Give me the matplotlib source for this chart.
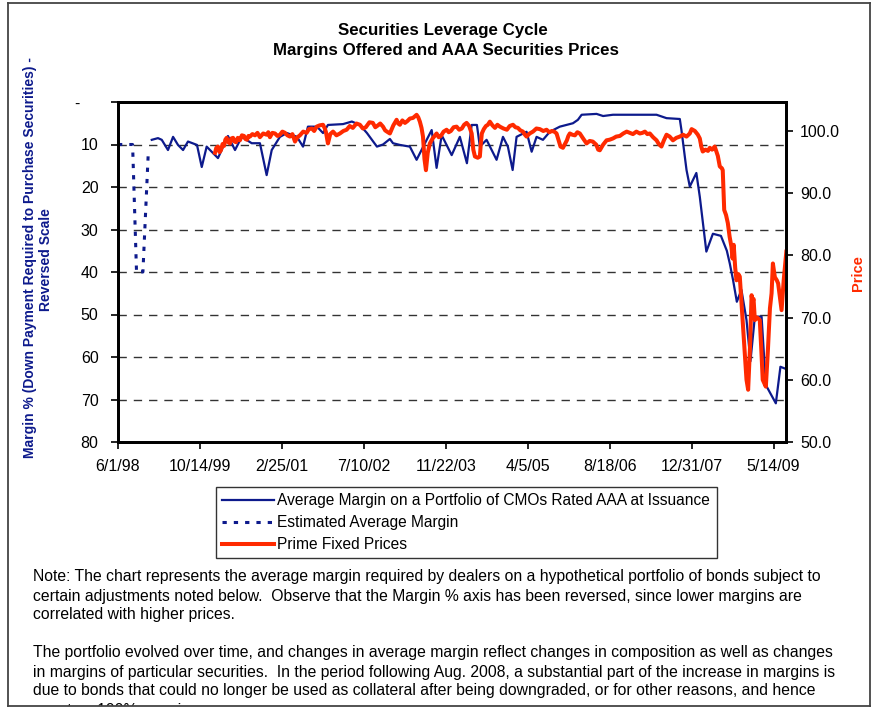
import pandas as pd
import matplotlib.pyplot as plt
from matplotlib.lines import Line2D
from matplotlib.patches import Rectangle

W, H = 871, 712
START = pd.Timestamp('1998-06-01')

# estimated margin (dotted), days since 6/1/98
est_days = [0, 89, 113, 152, 185]
est_margin = [10, 10, 40, 40, 11.7]

# average margin on CMO portfolio (%), days since 6/1/98
margin_days = [206, 244, 267, 305, 336, 366, 397, 427, 482, 511, 541, 610, 671, 714, 755,
               816, 866, 907, 938, 988, 1031, 1092, 1129, 1159, 1214, 1251, 1281, 1373, 1427,
               1476, 1519, 1580, 1617, 1659, 1678, 1720, 1781, 1822, 1873, 1914, 1944, 1975,
               2036, 2086, 2129, 2158, 2190, 2208, 2249, 2310, 2349, 2379, 2408, 2432, 2493,
               2524, 2554, 2593, 2635, 2696, 2776, 2806, 2829, 2920, 2960, 3020, 3225, 3286,
               3347, 3428, 3438, 3469, 3489, 3529, 3550, 3590, 3630, 3679, 3715, 3733, 3753,
               3776, 3804, 3835, 3859, 3886, 3927, 3953, 4014, 4042, 4075]
margin_vals = [8.9, 8.5, 8.9, 11.3, 8.2, 10.1, 11.3, 9.3, 10.1, 15.3, 10.5, 13.2, 8.0, 11.3, 8.2,
               9.7, 9.7, 17.2, 11.3, 8.2, 7.3, 8.2, 10.5, 5.8, 5.8, 7.3, 5.4, 5.2, 4.6,
               5.4, 7.3, 10.5, 10.0, 8.7, 9.7, 10.1, 10.5, 13.6, 9.7, 6.6, 15.5, 7.8,
               12.5, 8.2, 14.4, 5.4, 5.4, 10.5, 8.9, 13.6, 8.2, 10.5, 16.0, 8.2, 7.0,
               11.7, 8.2, 8.9, 7.0, 5.8, 5.0, 4.2, 3.0, 2.8, 3.3, 3.0, 3.0, 3.0,
               3.8, 4.0, 6.6, 16.0, 19.9, 16.7, 22.3, 35.2, 31.0, 31.5, 35.0, 38.0, 41.9,
               47.0, 44.2, 51.3, 61.0, 50.5, 50.5, 66.6, 70.9, 62.3, 62.8]

# prime fixed prices, days since 6/1/98
price_days = [592, 600, 610, 620, 628, 638, 647, 655, 663, 673, 683, 692, 702, 711, 720, 731,
              744, 756, 769, 778, 787, 796, 805, 820, 836, 851, 866, 886, 907, 917, 927, 942,
              958, 973, 988, 1003, 1019, 1034, 1049, 1064, 1080, 1095, 1110, 1130, 1151, 1165,
              1183, 1197, 1212, 1230, 1251, 1262, 1269, 1281, 1295, 1312, 1333, 1354, 1375,
              1395, 1414, 1433, 1455, 1476, 1494, 1512, 1534, 1555, 1570, 1586, 1600, 1617,
              1630, 1641, 1659, 1680, 1700, 1710, 1720, 1735, 1751, 1766, 1781, 1800, 1822,
              1832, 1842, 1852, 1861, 1870, 1879, 1890, 1903, 1920, 1944, 1957, 1970, 1987,
              2005, 2018, 2031, 2048, 2066, 2082, 2098, 2112, 2127, 2143, 2158, 2168, 2178,
              2195, 2208, 2214, 2220, 2232, 2245, 2257, 2269, 2285, 2300, 2315, 2330, 2352,
              2373, 2390, 2410, 2425, 2440, 2455, 2471, 2483, 2493, 2512, 2532, 2553, 2574,
              2595, 2615, 2632, 2647, 2662, 2676, 2690, 2700, 2715, 2727, 2739, 2748, 2757,
              2772, 2788, 2803, 2818, 2838, 2859, 2878, 2897, 2918, 2930, 2940, 2960, 2981,
              3000, 3020, 3040, 3062, 3083, 3104, 3123, 3142, 3163, 3184, 3200, 3215, 3230,
              3245, 3265, 3286, 3300, 3316, 3331, 3347, 3366, 3386, 3407, 3428, 3448, 3469,
              3489, 3500, 3507, 3520, 3538, 3550, 3560, 3568, 3585, 3600, 3611, 3625, 3641,
              3660, 3672, 3685, 3690, 3699, 3710, 3721, 3732, 3743, 3750, 3757, 3766, 3774,
              3785, 3794, 3803, 3812, 3825, 3835, 3845, 3856, 3866, 3872, 3878, 3886, 3900,
              3916, 3925, 3934, 3953, 3966, 3978, 3988, 3996, 4008, 4020, 4028, 4040, 4049,
              4062, 4078]
price_vals = [96.5, 97.3, 97.5, 96.6, 96.9, 97.9, 97.6, 98.6, 98.9, 98.2, 98.0, 98.8, 98.9, 98.3, 98.2, 98.9,
              98.5, 99.3, 99.2, 98.7, 98.6, 99.2, 99.1, 99.5, 99.3, 99.7, 99.0, 99.6, 99.4, 99.8, 99.0, 99.7,
              99.6, 99.2, 99.4, 99.9, 99.7, 99.3, 99.1, 99.5, 98.3, 99.0, 99.3, 99.9, 99.7, 100.3,
              100.4, 100.0, 100.7, 100.9, 101.0, 100.4, 99.8, 98.0, 99.5, 99.9, 99.3, 99.6, 100.0,
              100.2, 100.8, 100.5, 101.2, 101.0, 100.4, 100.6, 101.4, 101.3, 100.6, 100.9, 101.2, 100.7,
              100.1, 99.9, 99.6, 100.9, 101.8, 101.2, 101.0, 101.7, 101.3, 101.6, 102.0, 102.1, 102.6,
              102.2, 101.5, 100.5, 99.1, 95.5, 93.7, 96.5, 98.0, 98.8, 99.6, 99.0, 99.2, 99.9,
              100.2, 99.8, 100.0, 100.6, 100.7, 100.2, 100.4, 101.0, 101.3, 100.8, 99.6, 97.0, 95.9,
              95.7, 95.9, 98.0, 99.6, 100.3, 100.8, 101.0, 101.5, 100.9, 100.5, 101.0, 100.7, 100.4,
              100.2, 100.8, 101.0, 100.6, 100.5, 100.1, 99.9, 99.4, 99.1, 99.6, 99.9, 100.4, 100.3,
              100.0, 100.2, 99.8, 100.0, 99.9, 99.6, 98.4, 97.5, 97.3, 97.9, 98.5, 99.2, 99.6,
              99.4, 99.3, 99.8, 99.6, 98.8, 98.0, 98.4, 98.3, 97.8, 97.0, 96.9, 97.8, 98.5,
              98.6, 98.8, 99.1, 99.2, 99.6, 99.9, 99.7, 99.5, 99.9, 99.6, 99.7, 99.9, 99.5,
              99.6, 99.0, 98.5, 97.9, 97.5, 98.5, 99.4, 99.1, 98.5, 98.9, 99.1, 99.4, 99.1,
              99.6, 100.3, 100.2, 100.0, 99.4, 98.8, 97.4, 96.7, 97.0, 96.8, 97.3, 97.0, 97.5,
              96.0, 94.3, 94.0, 93.7, 87.3, 86.5, 85.2, 83.0, 81.4, 79.5, 81.7, 78.0, 76.0,
              77.0, 76.6, 73.0, 69.6, 64.0, 60.0, 58.4, 65.0, 73.6, 72.5, 73.0, 69.6, 70.0,
              69.6, 65.0, 60.0, 58.9, 65.0, 71.5, 73.9, 78.7, 76.5, 76.0, 75.5, 73.0, 71.2,
              76.0, 80.6]

tick_dates = pd.date_range(START, periods=9, freq='500D')
tick_labels = [f'{d.month}/{d.day}/{d:%y}' for d in tick_dates]

margin_ticks = [0, 10, 20, 30, 40, 50, 60, 70, 80]
margin_labels = ['-    '] + [str(v) for v in margin_ticks[1:]]
price_ticks = [50, 60, 70, 80, 90, 100]

BLUE = '#0d1a8c'
RED = '#ff2a00'
plt.rcParams['font.family'] = 'Liberation Sans'


def to_dates(days):
    return START + pd.to_timedelta(days, unit='D')


fig = plt.figure(figsize=(W / 100, H / 100), dpi=100)
ax = fig.add_axes([118 / W, 1 - 442 / H, (786 - 118) / W, (442 - 102) / H])
ax2 = ax.twinx()

l1, = ax.plot(to_dates(margin_days), margin_vals, color=BLUE, lw=1.6, solid_joinstyle='round',
              label='Average Margin on a Portfolio of CMOs Rated AAA at Issuance')
l2, = ax.plot(to_dates(est_days), est_margin, color=BLUE, lw=2.2, ls=(0, (1.4, 2.3)),
              label='Estimated Average Margin')
l3, = ax2.plot(to_dates(price_days), price_vals, color=RED, lw=2.9, solid_joinstyle='round',
               label='Prime Fixed Prices')

ax.set_ylim(80, 0)
ax.set_yticks(margin_ticks)
ax.set_yticklabels(margin_labels)
ax2.set_ylim(50, 104.66)
ax2.set_yticks(price_ticks)
ax2.set_yticklabels([f'{v:.1f}' for v in price_ticks])

ax.set_xlim(START, to_dates([4076])[0])
ax.set_xticks(tick_dates)
ax.set_xticklabels(tick_labels)

ax.yaxis.grid(True, color='#333333', lw=1.0, ls=(0, (6, 5)))
ax.set_axisbelow(True)

for a in (ax, ax2):
    for s in a.spines.values():
        s.set_linewidth(2)
        s.set_color('black')
ax.tick_params(axis='y', direction='out', length=5, width=1.2, labelsize=11.5, pad=9)
ax.tick_params(axis='x', direction='out', length=5, width=1.2, labelsize=11.5, pad=7)
ax2.tick_params(axis='y', direction='out', length=5, width=1.2, labelsize=11.5, pad=5)

# axis titles
fig.text(30 / W, 1 - 258 / H, 'Margin % (Down Payment Required to Purchase Securities) -',
         rotation=90, ha='center', va='center', color=BLUE, fontsize=10, fontweight='bold')
fig.text(46 / W, 1 - 260 / H, 'Reversed Scale', rotation=90, ha='center', va='center',
         color=BLUE, fontsize=10, fontweight='bold')
fig.text(858 / W, 1 - 273 / H, 'Price', rotation=90, ha='center', va='center',
         color=RED, fontsize=10.5, fontweight='bold')

fig.text(443 / W, 1 - 30 / H, 'Securities Leverage Cycle', ha='center', va='center',
         fontsize=12.2, fontweight='bold')
fig.text(446 / W, 1 - 51 / H, 'Margins Offered and AAA Securities Prices', ha='center',
         va='center', fontsize=12.2, fontweight='bold')

leg = fig.legend(handles=[l1, l2, l3], loc='upper left',
                 bbox_to_anchor=(216 / W, 1 - 487 / H), bbox_transform=fig.transFigure,
                 fontsize=11.2, frameon=True, fancybox=False, borderpad=0.4,
                 labelspacing=0.45, handlelength=3.3, handletextpad=0.25, borderaxespad=0)
leg.get_frame().set_edgecolor('black')
leg.get_frame().set_linewidth(1.0)

notes = [
    'Note: The chart represents the average margin required by dealers on a hypothetical portfolio of bonds subject to',
    'certain adjustments noted below.  Observe that the Margin % axis has been reversed, since lower margins are',
    'correlated with higher prices.',
    '',
    'The portfolio evolved over time, and changes in average margin reflect changes in composition as well as changes',
    'in margins of particular securities.  In the period following Aug. 2008, a substantial part of the increase in margins is',
    'due to bonds that could no longer be used as collateral after being downgraded, or for other reasons, and hence',
    'count as 100% margin.',
]
for i, line in enumerate(notes):
    fig.text(33 / W, 1 - (577 + i * 19.0) / H, line, ha='left', va='center', fontsize=11.3)

# outer frame; the last note line is cut by it
fig.add_artist(Rectangle((0, 0), 1, 1 - 706 / H, transform=fig.transFigure,
                         facecolor='white', edgecolor='none', zorder=10))
for xs, ys in [([8, 8], [3, 706]), ([8, 871], [3, 3]), ([8, 871], [706, 706]),
               ([869.5, 869.5], [3, 706])]:
    fig.add_artist(Line2D([x / W for x in xs], [1 - y / H for y in ys],
                          transform=fig.transFigure, color='#444444', lw=1.3, zorder=11))

plt.savefig('out.png', dpi=100)
